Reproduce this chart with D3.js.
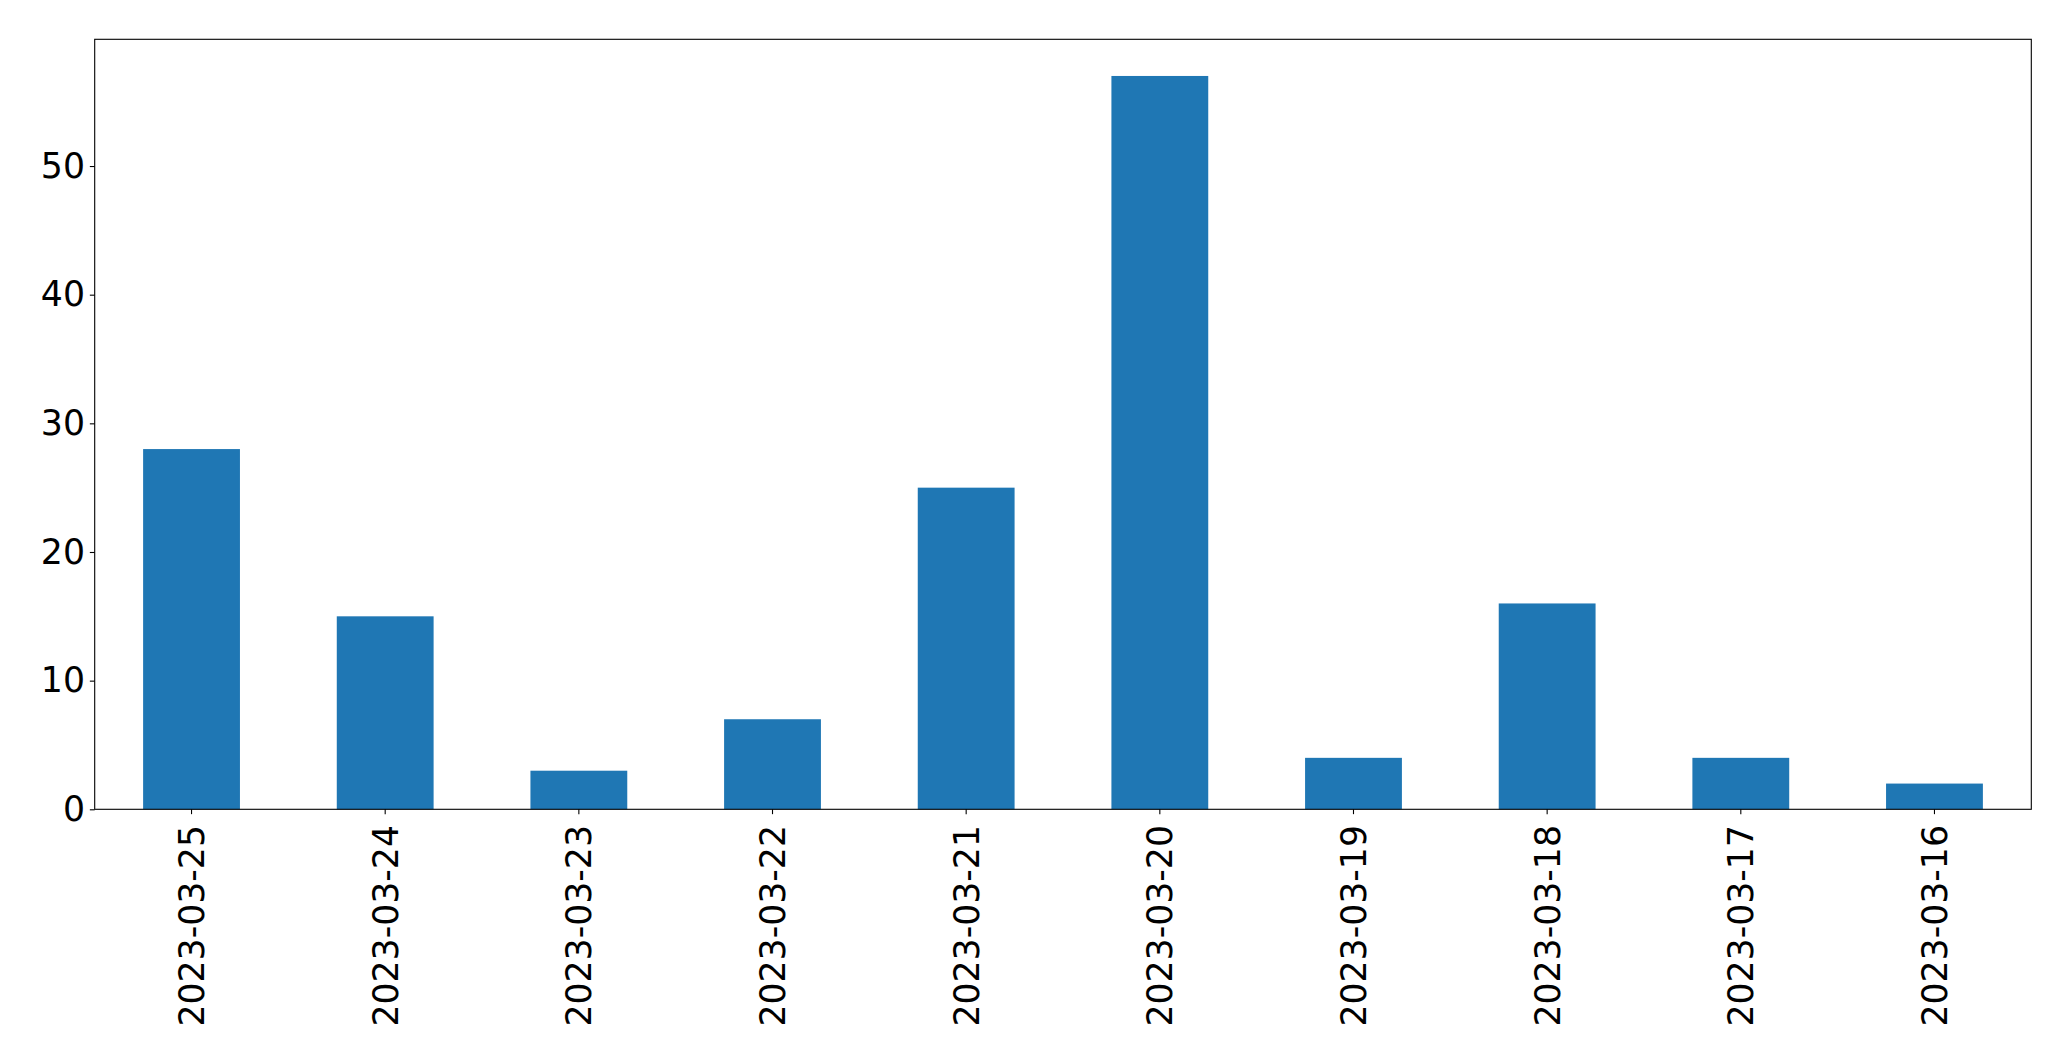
<!DOCTYPE html>
<html>
<head>
<meta charset="utf-8">
<script src="https://cdn.jsdelivr.net/npm/d3@7"></script>
<style>
  html, body { margin: 0; padding: 0; background: #fff; }
  svg { display: block; }
  text { font-family: "DejaVu Sans", sans-serif; fill: #000; }
</style>
</head>
<body>
<svg id="chart" width="2071" height="1061"></svg>
<script>
const categories = ["2023-03-25","2023-03-24","2023-03-23","2023-03-22","2023-03-21","2023-03-20","2023-03-19","2023-03-18","2023-03-17","2023-03-16"];
const values = [28, 15, 3, 7, 25, 57, 4, 16, 4, 2];
const yTicks = [0, 10, 20, 30, 40, 50];

const W = 2071, H = 1061;
const m = { left: 94.7, top: 39.3, right: 2071 - 2031.3, bottom: 1061 - 809.3 };
const iw = W - m.left - m.right, ih = H - m.top - m.bottom;
const fontSize = 34.7;
const tickLen = 4.86, pad = 4.86;

const svg = d3.select("#chart");
const g = svg.append("g").attr("transform", `translate(${m.left},${m.top})`);

const x = d3.scaleBand().domain(categories).range([0, iw]).paddingInner(0.5).paddingOuter(0.25);
const yMax = d3.max(values) * 1.05;
const y = d3.scaleLinear().domain([0, yMax]).range([ih, 0]);

g.selectAll("rect.bar").data(values).enter().append("rect")
  .attr("class", "bar")
  .attr("x", (d, i) => x(categories[i]))
  .attr("width", x.bandwidth())
  .attr("y", d => y(d))
  .attr("height", d => y(0) - y(d))
  .attr("fill", "#1f77b4");

// Y axis
const yAxis = d3.axisLeft(y).tickValues(yTicks).tickSize(tickLen).tickPadding(pad).tickFormat(d3.format("d"));
const ya = g.append("g").call(yAxis);
ya.select(".domain").remove();
ya.selectAll(".tick line").attr("stroke", "#000").attr("stroke-width", 1.1);
ya.selectAll(".tick text").style("font-size", fontSize + "px").attr("font-family", null);

// X axis
const xAxis = d3.axisBottom(x).tickSize(tickLen).tickSizeOuter(0);
const xa = g.append("g").attr("transform", `translate(0,${ih})`).call(xAxis);
xa.select(".domain").remove();
xa.selectAll(".tick line").attr("stroke", "#000").attr("stroke-width", 1.1);
xa.selectAll(".tick text")
  .style("font-size", fontSize + "px")
  .attr("font-family", null)
  .attr("transform", "rotate(-90)")
  .attr("text-anchor", "end")
  .attr("x", -(tickLen + pad + 6))
  .attr("y", 0)
  .attr("dy", "0.36em");

// Frame
g.append("rect").attr("x", 0).attr("y", 0).attr("width", iw).attr("height", ih)
  .attr("fill", "none").attr("stroke", "#000").attr("stroke-width", 1.1);
</script>
</body>
</html>
